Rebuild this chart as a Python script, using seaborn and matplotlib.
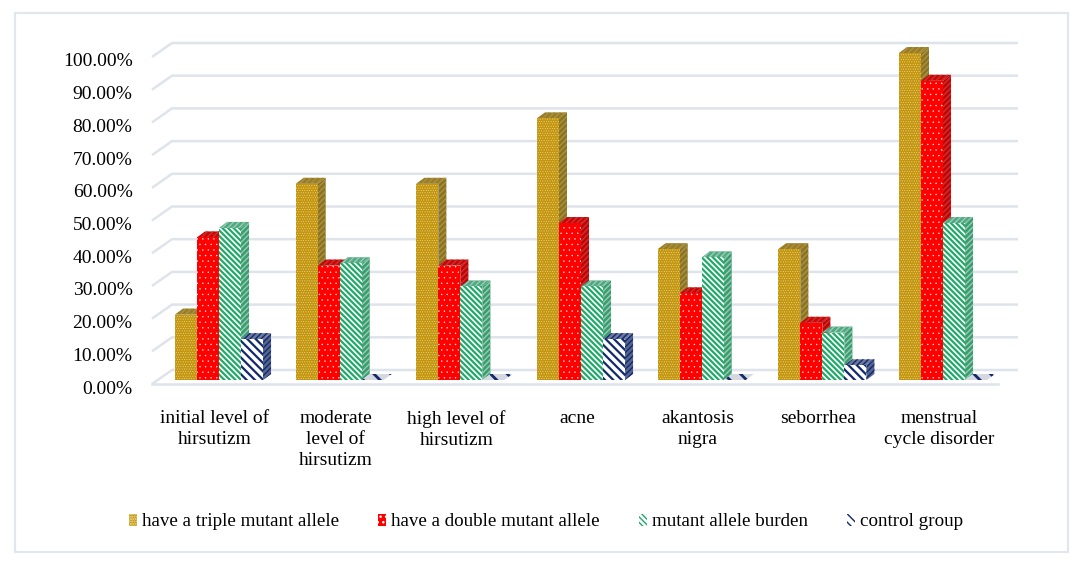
import pandas as pd
import matplotlib
matplotlib.use('Agg')
import matplotlib.pyplot as plt
import seaborn as sns
from matplotlib.patches import Polygon, Patch, Rectangle
from matplotlib.transforms import ScaledTranslation

# Data
categories = ['initial level of\nhirsutizm', 'moderate\nlevel of\nhirsutizm', 'high level of\nhirsutizm',
              'acne', 'akantosis\nnigra', 'seborrhea', 'menstrual\ncycle disorder']
triple = [20, 60, 60, 80, 40, 40, 100]
double = [43.6, 35, 35, 48, 26.5, 17.5, 91.5]
burden = [46.5, 35.7, 28.6, 28.6, 37.5, 14.5, 48]
control = [12.5, 0, 0, 12.5, 0, 4.5, 0]
series_names = ['have a triple mutant allele', 'have a double mutant allele', 'mutant allele burden', 'control group']
y_ticks = [0, 10, 20, 30, 40, 50, 60, 70, 80, 90, 100]

face = ['#C4960F', '#FF0000', '#FFFFFF', '#FFFFFF']
hatch_col = ['#F3E2A8', '#FFFFFF', '#1FAA68', '#12296B']
hatches = ['.......', '...', '\\\\\\\\\\\\', '\\\\\\\\']
hatch_lw = [0.3, 0.2, 1.6, 1.6]
side = ['#8C7320', '#BE0505', '#3F9A70', '#55658F']
top = ['#9A7D22', '#C40808', '#55A583', '#6A789E']
side_hatch = ['#A89248', '#D03030', '#8FD0B0', '#12296B']

data = pd.DataFrame({
    'cat': categories * 4,
    'serie': [s for s in series_names for _ in categories],
    'val': triple + double + burden + control,
})

plt.rcParams['font.family'] = ['Liberation Serif', 'DejaVu Serif']
plt.rcParams['hatch.linewidth'] = 1.0

W, H = 1085, 564
fig = plt.figure(figsize=(W / 100, H / 100), dpi=100, facecolor='white')
# frame round the chart
fig.add_artist(Rectangle((14.5 / W, 1 - 551.5 / H), 1053 / W, 539 / H, transform=fig.transFigure,
                         fill=False, edgecolor='#E2E6ED', linewidth=1.6))

ax = fig.add_axes([152 / W, 1 - 380 / H, 846 / W, 327 / H])
ax.patch.set_alpha(0)

sns.barplot(data=data, x='cat', y='val', hue='serie', order=categories, hue_order=series_names,
            palette=face, width=0.73, gap=0, saturation=1, errorbar=None, legend=False, ax=ax)

px_x = 120.67
px_y = 3.27
ax.set_xlim((152 - 219) / px_x, (998 - 219) / px_x)
ax.set_ylim(0, 100)

# back wall lines, floor and left side
for v in y_ticks:
    y0 = v - 4 / px_y
    y1 = v + 10 / px_y
    xl = ax.get_xlim()[0]
    xr = ax.get_xlim()[1] + 20 / px_x
    ax.plot([xl, xl + 20 / px_x, xr], [y0, y1, y1], color='#DFE3EB', lw=1.8, zorder=1, clip_on=False,
            solid_capstyle='butt')
ax.plot([ax.get_xlim()[0], ax.get_xlim()[1]], [-4 / px_y, -4 / px_y],
        color='#DFE3EB', lw=1.8, zorder=1, clip_on=False)

# 3d look for every bar
dx = 8 / px_x
dy = 6 / px_y
n_cat = len(categories)
for i, bar in enumerate(list(ax.patches)):
    s = i // n_cat
    z = 3 + s + 0.5 * (i % n_cat) / n_cat
    x0 = bar.get_x()
    x1 = x0 + bar.get_width()
    h = bar.get_height()
    bar.set_hatch(hatches[s])
    bar.set_edgecolor(hatch_col[s])
    bar.set_linewidth(0)
    bar.set_hatch_linewidth(hatch_lw[s])
    bar.set_zorder(z + 0.1)
    ax.add_patch(Polygon([(x1, 0), (x1 + dx, dy), (x1 + dx, h + dy), (x1, h)], closed=True, facecolor=side[s],
                         edgecolor=side_hatch[s], hatch='//////', linewidth=0, zorder=z, clip_on=False))
    cap = Polygon([(x0, h), (x0 + dx, h + dy), (x1 + dx, h + dy), (x1, h)], closed=True, facecolor=top[s],
                  edgecolor=side_hatch[s], hatch='//////', linewidth=0, zorder=z + 0.05, clip_on=False)
    if h == 0:
        # empty bar leaves only a flat hatched piece on the floor
        cap.set_facecolor('#D5D8DF')
        cap.set_edgecolor('#12296B')
        cap.set_hatch('\\\\')
        cap.set_hatch_linewidth(2.0)
    ax.add_patch(cap)

sns.despine(ax=ax, left=True, bottom=True)
ax.set_xlabel('')
ax.set_ylabel('')
ax.set_yticks(y_ticks)
ax.set_yticklabels([f'{v:.2f}%' for v in y_ticks], fontsize=14, color='#000000')
ax.tick_params(axis='y', length=0, pad=14)
ax.tick_params(axis='x', length=0, pad=21.5)
ax.set_xticks(range(n_cat))
ax.set_xticklabels(categories, fontsize=14, color='#000000', linespacing=1.32)
shift = ScaledTranslation(0, -7 / 100, fig.dpi_scale_trans)
for lab in ax.get_yticklabels():
    lab.set_transform(lab.get_transform() + shift)
shift_x = ScaledTranslation(-4 / 100, 0, fig.dpi_scale_trans)
for lab in ax.get_xticklabels():
    lab.set_transform(lab.get_transform() + shift_x)

handles = []
for k in range(4):
    handle = Patch(facecolor=face[k], edgecolor=hatch_col[k], hatch=hatches[k], linewidth=0, label=series_names[k])
    handle.set_hatch_linewidth(hatch_lw[k])
    handles.append(handle)
fig.legend(handles=handles, loc='center', bbox_to_anchor=(546 / W, 1 - 522 / H), ncol=4, frameon=False,
           fontsize=13.7, handlelength=0.42, handleheight=0.55, handletextpad=0.25, columnspacing=2.07)

fig.savefig('out.png', dpi=100)
